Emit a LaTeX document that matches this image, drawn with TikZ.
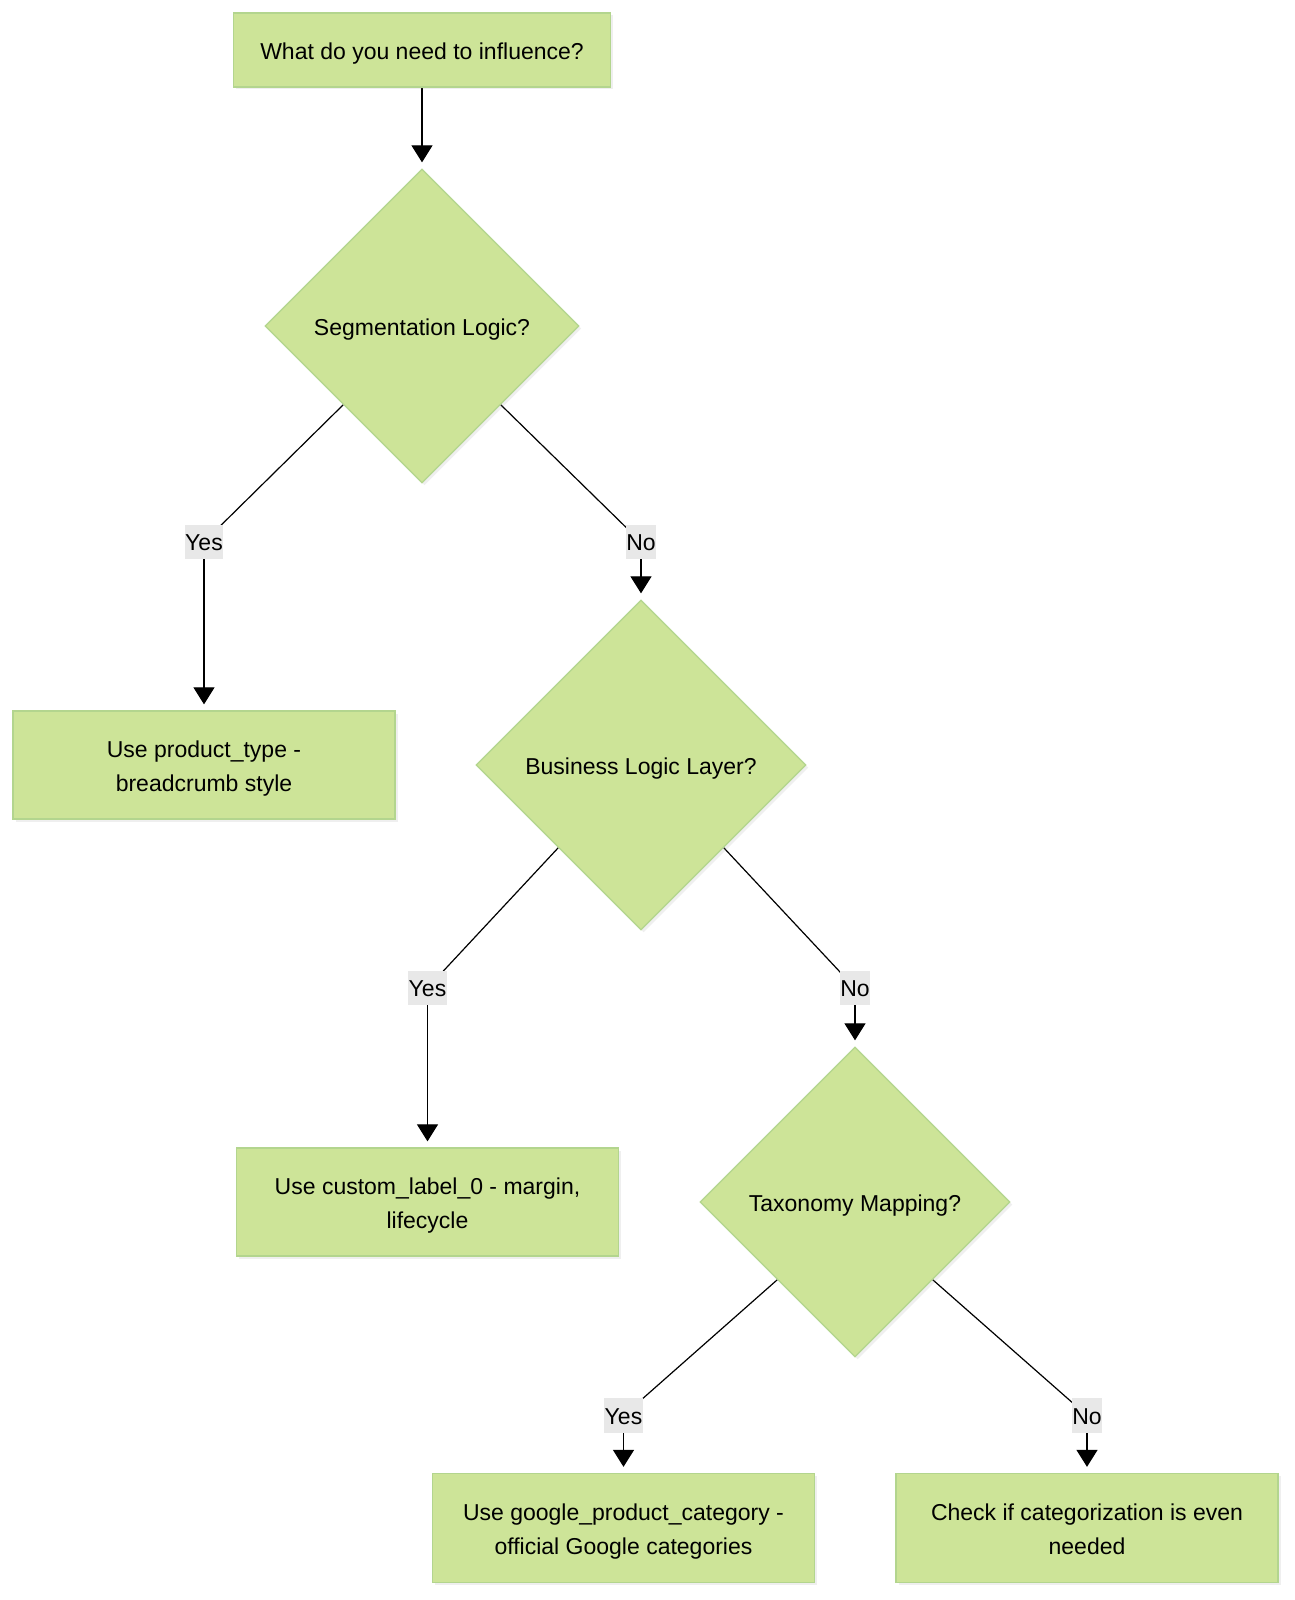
\documentclass[tikz,border=0pt]{standalone}
\usepackage{fontspec}
\setmainfont{Liberation Sans}
\usetikzlibrary{shapes.geometric,arrows.meta,shadows,calc,backgrounds}
\definecolor{nodefill}{HTML}{CDE498}
\definecolor{nodeline}{HTML}{B3D58E}
\definecolor{lblbg}{HTML}{E8E8E8}
\newcommand\nodetxt[1]{\raisebox{-2.5pt}[\height][\depth]{\begin{tabular}{@{}c@{}}#1\end{tabular}}}
\newcommand\lbltxt[1]{\raisebox{-2pt}[\height][\depth]{\begin{tabular}{@{}c@{}}#1\end{tabular}}}
\begin{document}
\begin{tikzpicture}[x=1pt,y=-1pt,
  font=\fontsize{23}{34.7}\selectfont,
  box/.style={rectangle, draw=nodeline, fill=nodefill, line width=1.3pt,
    minimum width=382pt, minimum height=108pt, inner sep=0pt,
    drop shadow={opacity=0.12, shadow xshift=2.5pt, shadow yshift=-2.5pt}},
  dec/.style={diamond, draw=nodeline, fill=nodefill, line width=1.3pt, aspect=1,
    inner sep=0pt,
    drop shadow={opacity=0.12, shadow xshift=2.5pt, shadow yshift=-2.5pt}},
  lbl/.style={fill=lblbg, inner xsep=0.5pt, inner ysep=0pt, minimum height=34pt},
  ln/.style={line width=1.2pt, black},
  arr/.style={ln, -{Triangle[length=17pt,width=21pt]}, shorten >=6pt}
]
\useasboundingbox (0,0) rectangle (1294,1600);

% nodes
\node[box, minimum width=377pt, minimum height=74pt] (top) at (422,50) {\nodetxt{What do you need to influence?}};
\node[dec, minimum width=314pt, minimum height=314pt] (d1) at (422,326) {\nodetxt{Segmentation Logic?}};
\node[box] (b2) at (204,765) {\nodetxt{Use product\_type -\\breadcrumb style}};
\node[dec, minimum width=330pt, minimum height=330pt] (d2) at (641,765) {\nodetxt{Business Logic Layer?}};
\node[box] (b3) at (427.5,1202) {\nodetxt{Use custom\_label\_0 - margin,\\lifecycle}};
\node[dec, minimum width=310pt, minimum height=310pt] (d3) at (855,1202) {\nodetxt{Taxonomy Mapping?}};
\node[box, minimum height=109pt] (b4) at (623.5,1528) {\nodetxt{Use google\_product\_category -\\official Google categories}};
\node[box, minimum height=109pt] (b5) at (1087,1528) {\nodetxt{Check if categorization is even\\needed}};

% edge labels
\node[lbl] (l1y) at (204,542) {\lbltxt{Yes}};
\node[lbl] (l1n) at (641,542) {\lbltxt{No}};
\node[lbl] (l2y) at (427.5,988) {\lbltxt{Yes}};
\node[lbl] (l2n) at (855,988) {\lbltxt{No}};
\node[lbl] (l3y) at (623.5,1415.5) {\lbltxt{Yes}};
\node[lbl] (l3n) at (1087,1415.5) {\lbltxt{No}};

\begin{scope}[on background layer]
\fill[white] (0,0) rectangle (1294,1600);
\draw[arr] (top.south) -- (d1.north);

\draw[ln] ($(d1.south)!0.5!(d1.west)$) -- (l1y.center);
\draw[arr] (l1y.center) -- (b2.north);
\draw[ln] ($(d1.south)!0.5!(d1.east)$) -- (l1n.center);
\draw[arr] (l1n.center) -- (d2.north);

\draw[ln] ($(d2.south)!0.5!(d2.west)$) -- (l2y.center);
\draw[arr] (l2y.center) -- (b3.north);
\draw[ln] ($(d2.south)!0.5!(d2.east)$) -- (l2n.center);
\draw[arr] (l2n.center) -- (d3.north);

\draw[ln] ($(d3.south)!0.5!(d3.west)$) -- (l3y.center);
\draw[arr] (l3y.center) -- (b4.north);
\draw[ln] ($(d3.south)!0.5!(d3.east)$) -- (l3n.center);
\draw[arr] (l3n.center) -- (b5.north);
\end{scope}
\end{tikzpicture}
\end{document}
